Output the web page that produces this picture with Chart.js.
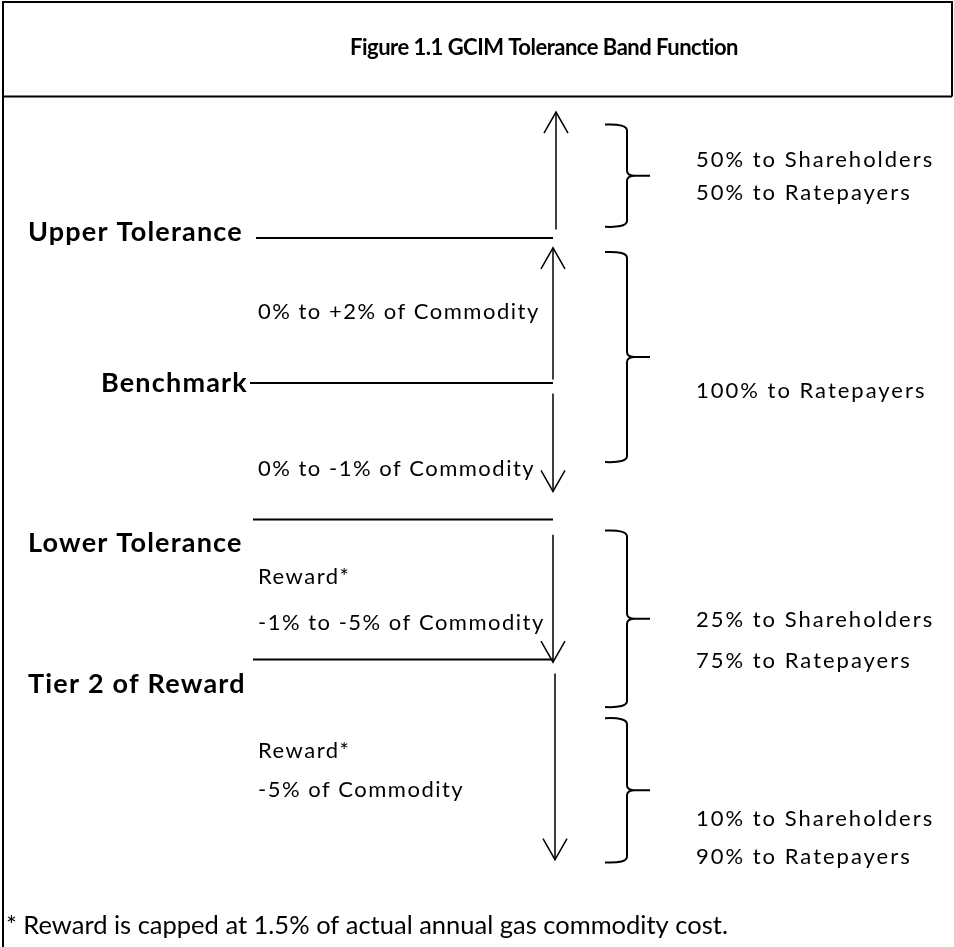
<!DOCTYPE html>
<html>
<head>
<meta charset="utf-8">
<script src="https://cdn.jsdelivr.net/npm/chart.js@4.4.0/dist/chart.umd.min.js"></script>
<style>
  html, body { margin: 0; padding: 0; background: #fff; }
  #wrap { width: 954px; height: 947px; position: relative; }
</style>
</head>
<body>
<div id="wrap"><canvas id="bandChart"></canvas></div>
<script>
// y values are in "band units": 0 = upper tolerance, roughly one unit per band
const levelNames = ['Upper Tolerance', 'Benchmark', 'Lower Tolerance', 'Tier 2 of Reward'];
const levelPos = [0, 1.036, 2.01, 3.01];
const levelLabelPos = [-0.04, 1.04, 2.18, 3.19];

// arrows beside the levels (from -> to)
const arrowFrom = [-0.06, 1.01, 1.11, 2.12, 3.11];
const arrowTo = [-0.9, 0.07, 1.81, 3.03, 4.44];

// notes next to the arrows
const noteText = ['0% to +2% of Commodity', '0% to -1% of Commodity', 'Reward*',
  '-1% to -5% of Commodity', 'Reward*', '-5% of Commodity'];
const notePos = [0.53, 1.65, 2.42, 2.75, 3.66, 3.94];

// sharing braces and their text
const braceTop = [-0.81, 0.1, 2.09, 3.43];
const braceBottom = [-0.08, 1.6, 3.35, 4.46];
const shareText = ['50% to Shareholders', '50% to Ratepayers', '100% to Ratepayers',
  '25% to Shareholders', '75% to Ratepayers', '10% to Shareholders', '90% to Ratepayers'];
const sharePos = [-0.56, -0.32, 1.09, 2.73, 3.02, 4.15, 4.42];

const titleText = 'Figure 1.1 GCIM Tolerance Band Function';
const footText = '* Reward is capped at 1.5% of actual annual gas commodity cost.';

// layout (x scale runs across the page)
const lineStartX = [256, 250, 253, 253];
const lineEndX = 553;
const labelX = [28, 248, 28, 28];
const labelAlign = ['left', 'right', 'left', 'left'];
const arrowX = [556, 553, 553, 553, 555];
const noteX = 258;
const braceX = { hook: 605, stem: 627, tip: 650 };
const shareX = 696;
const yMin = -1.7, yMax = 5.064;
const FONT = 'Lato, "Open Sans", sans-serif';

const plain = { showLine: true, borderColor: '#000', pointRadius: 0, fill: false };

const levelSets = levelPos.map((y, i) => ({
  ...plain, borderWidth: 2,
  data: [{ x: lineStartX[i], y: y }, { x: lineEndX, y: y }]
}));
const arrowSets = arrowFrom.map((y, i) => ({
  ...plain, borderWidth: 1.5,
  data: [{ x: arrowX[i], y: y }, { x: arrowX[i], y: arrowTo[i] }]
}));

const diagram = {
  id: 'diagram',
  afterDatasetsDraw(chart) {
    const ctx = chart.ctx;
    const xs = chart.scales.x, ys = chart.scales.y;
    const X = v => xs.getPixelForValue(v);
    const Y = v => ys.getPixelForValue(v);
    ctx.save();
    ctx.strokeStyle = '#000';
    ctx.fillStyle = '#000';

    // frame + title box
    ctx.lineWidth = 2;
    ctx.beginPath();
    ctx.moveTo(X(3), chart.height);
    ctx.lineTo(X(3), Y(-1.685));
    ctx.lineTo(X(952), Y(-1.685));
    ctx.lineTo(X(952), Y(-1.01));
    ctx.moveTo(X(3), Y(-1.01));
    ctx.lineTo(X(952), Y(-1.01));
    ctx.stroke();

    ctx.textBaseline = 'middle';
    ctx.textAlign = 'center';
    ctx.font = 'bold 22px ' + FONT;
    ctx.letterSpacing = '-0.5px';
    ctx.fillText(titleText, X(544), Y(-1.36));

    // level names
    ctx.font = 'bold 27px ' + FONT;
    ctx.letterSpacing = '1.2px';
    levelNames.forEach((t, i) => {
      ctx.textAlign = labelAlign[i];
      ctx.fillText(t, X(labelX[i]), Y(levelLabelPos[i]));
    });

    // arrow heads
    ctx.lineWidth = 1.5;
    arrowTo.forEach((y, i) => {
      const tx = X(arrowX[i]), ty = Y(y);
      const dir = y < arrowFrom[i] ? 1 : -1;
      ctx.beginPath();
      ctx.moveTo(tx - 12, ty + dir * 21);
      ctx.lineTo(tx, ty);
      ctx.lineTo(tx + 12, ty + dir * 21);
      ctx.stroke();
    });

    // braces
    ctx.lineWidth = 2;
    braceTop.forEach((t, i) => {
      const top = Y(t), bot = Y(braceBottom[i]), mid = (top + bot) / 2;
      const h = X(braceX.hook), s = X(braceX.stem), tip = X(braceX.tip);
      ctx.beginPath();
      ctx.moveTo(h, top);
      ctx.quadraticCurveTo(s, top - 1, s, top + 6);
      ctx.lineTo(s, mid - 5);
      ctx.quadraticCurveTo(s, mid, s + 8, mid);
      ctx.lineTo(tip, mid);
      ctx.moveTo(s + 8, mid);
      ctx.quadraticCurveTo(s, mid, s, mid + 5);
      ctx.lineTo(s, bot - 6);
      ctx.quadraticCurveTo(s, bot + 1, h, bot);
      ctx.stroke();
    });

    // notes + shares
    ctx.textAlign = 'left';
    ctx.font = '22px ' + FONT;
    ctx.letterSpacing = '1.5px';
    noteText.forEach((t, i) => ctx.fillText(t, X(noteX), Y(notePos[i])));
    ctx.letterSpacing = '2px';
    shareText.forEach((t, i) => ctx.fillText(t, X(shareX), Y(sharePos[i])));

    ctx.font = '25.5px ' + FONT;
    ctx.letterSpacing = '0px';
    ctx.fillText(footText, X(6), Y(4.91));
    ctx.restore();
  }
};

new Chart(document.getElementById('bandChart'), {
  type: 'scatter',
  data: { datasets: [...levelSets, ...arrowSets] },
  options: {
    responsive: true,
    maintainAspectRatio: false,
    animation: false,
    layout: { padding: 0 },
    plugins: { legend: { display: false }, tooltip: { enabled: false }, title: { display: false } },
    scales: {
      x: { type: 'linear', min: 0, max: 954, display: false },
      y: { type: 'linear', min: yMin, max: yMax, reverse: true, display: false }
    }
  },
  plugins: [diagram]
});
</script>
</body>
</html>
